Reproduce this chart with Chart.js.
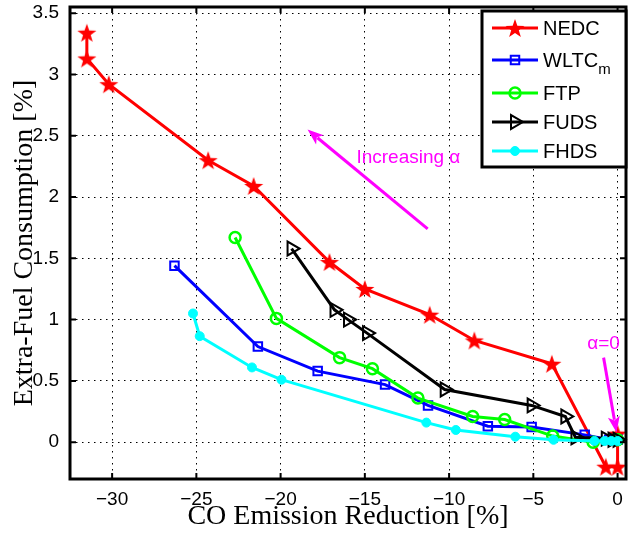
<!DOCTYPE html>
<html>
<head>
<meta charset="utf-8">
<script src="https://cdn.jsdelivr.net/npm/chart.js@4.4.1/dist/chart.umd.min.js"></script>
<style>
html, body { margin: 0; padding: 0; background: #fff; }
#wrap { width: 628px; height: 533px; }
</style>
</head>
<body>
<div id="wrap"><canvas id="chart" width="628" height="533"></canvas></div>
<script>
// Datos
const nedcX = [-31.5, -31.5, -30.2, -24.3, -21.6, -17.1, -15.0, -11.15, -8.5, -3.9, -0.7, 0, 0];
const nedcY = [3.34, 3.13, 2.92, 2.30, 2.09, 1.47, 1.25, 1.04, 0.83, 0.64, -0.20, -0.20, 0.07];

const wltcX = [-26.3, -21.35, -17.8, -13.8, -11.25, -7.7, -5.1, -1.95, -0.5, 0];
const wltcY = [1.44, 0.78, 0.58, 0.47, 0.30, 0.13, 0.125, 0.06, 0.02, 0.02];

const ftpX = [-22.7, -20.25, -16.5, -14.55, -11.85, -8.6, -6.7, -3.85, -1.45, 0];
const ftpY = [1.67, 1.01, 0.69, 0.60, 0.36, 0.21, 0.185, 0.05, 0.0, 0.02];

const fudsX = [-19.35, -16.8, -16.0, -14.87, -10.26, -5.1, -3.1, -2.5, -0.7, -0.3, 0];
const fudsY = [1.58, 1.08, 1.0, 0.89, 0.43, 0.30, 0.21, 0.04, 0.03, 0.02, 0.02];

const fhdsX = [-25.2, -24.8, -21.7, -19.95, -11.35, -9.6, -6.07, -3.8, -1.37, -0.77, -0.37, 0];
const fhdsY = [1.05, 0.865, 0.61, 0.51, 0.16, 0.10, 0.045, 0.02, 0.01, 0.01, 0.01, 0.01];

// Ejes
const xMin = -32.5, xMax = 0.5;
const yMin = -0.3, yMax = 3.55;
const xTicks = [-30, -25, -20, -15, -10, -5, 0];
const yTicks = [0, 0.5, 1, 1.5, 2, 2.5, 3, 3.5];

// Anotaciones (coordenadas en datos)
const arrowInc = { from: [-11.27, 1.74], to: [-18.4, 2.55] };
const textInc = { at: [-15.5, 2.32], label: 'Increasing α' };
const arrowZero = { from: [-0.83, 0.69], to: [-0.06, 0.08] };
const textZero = { at: [-0.83, 0.80], label: 'α=0' };

function pairs(xs, ys) {
    return xs.map((x, i) => ({ x: x, y: ys[i] }));
}

// Estrella rellena (pentagrama) como imagen
function makeStar(r, color) {
    const c = document.createElement('canvas');
    const s = Math.ceil(r * 2 + 2);
    c.width = s;
    c.height = s;
    const g = c.getContext('2d');
    g.beginPath();
    for (let i = 0; i < 10; i++) {
        const rad = i % 2 === 0 ? r : r * 0.4;
        const a = -Math.PI / 2 + i * Math.PI / 5;
        g.lineTo(s / 2 + rad * Math.cos(a), s / 2 + 1 + rad * Math.sin(a));
    }
    g.closePath();
    g.fillStyle = color;
    g.fill();
    return c;
}
const starImg = makeStar(10, '#ff0000');

const datasets = [
    {
        label: 'NEDC', data: pairs(nedcX, nedcY),
        borderColor: '#ff0000', backgroundColor: '#ff0000',
        pointStyle: starImg, pointRadius: 10, borderWidth: 3, order: 5
    },
    {
        label: 'WLTC', sub: 'm', data: pairs(wltcX, wltcY),
        borderColor: '#0000ff', backgroundColor: 'rgba(0,0,0,0)',
        pointStyle: 'rect', pointRadius: 6, pointBorderWidth: 2, borderWidth: 3, order: 4
    },
    {
        label: 'FTP', data: pairs(ftpX, ftpY),
        borderColor: '#00ff00', backgroundColor: 'rgba(0,0,0,0)',
        pointStyle: 'circle', pointRadius: 5.5, pointBorderWidth: 2.5, borderWidth: 3, order: 3
    },
    {
        label: 'FUDS', data: pairs(fudsX, fudsY),
        borderColor: '#000000', backgroundColor: 'rgba(0,0,0,0)',
        pointStyle: 'triangle', pointRotation: 90, pointRadius: 8, pointBorderWidth: 2, borderWidth: 3, order: 2
    },
    {
        label: 'FHDS', data: pairs(fhdsX, fhdsY),
        borderColor: '#00ffff', backgroundColor: '#00ffff',
        pointStyle: 'circle', pointRadius: 4.5, pointBorderWidth: 1, borderWidth: 3, order: 1
    }
];

function drawArrow(ctx, x1, y1, x2, y2, color) {
    const ang = Math.atan2(y2 - y1, x2 - x1);
    const hl = 16, hw = 6;
    ctx.save();
    ctx.strokeStyle = color;
    ctx.fillStyle = color;
    ctx.lineWidth = 3;
    ctx.beginPath();
    ctx.moveTo(x1, y1);
    ctx.lineTo(x2 - Math.cos(ang) * hl * 0.8, y2 - Math.sin(ang) * hl * 0.8);
    ctx.stroke();
    ctx.beginPath();
    ctx.moveTo(x2, y2);
    ctx.lineTo(x2 - hl * Math.cos(ang) + hw * Math.sin(ang), y2 - hl * Math.sin(ang) - hw * Math.cos(ang));
    ctx.lineTo(x2 - hl * 0.75 * Math.cos(ang), y2 - hl * 0.75 * Math.sin(ang));
    ctx.lineTo(x2 - hl * Math.cos(ang) - hw * Math.sin(ang), y2 - hl * Math.sin(ang) + hw * Math.cos(ang));
    ctx.closePath();
    ctx.fill();
    ctx.restore();
}

// Marco, marcas interiores, leyenda y anotaciones
const decorPlugin = {
    id: 'decor',
    afterDraw(chart) {
        const ctx = chart.ctx;
        const a = chart.chartArea;
        const xs = chart.scales.x, ys = chart.scales.y;

        // marcas hacia dentro
        ctx.save();
        ctx.strokeStyle = '#000';
        ctx.lineWidth = 2;
        xs.ticks.forEach(t => {
            const px = xs.getPixelForValue(t.value);
            ctx.beginPath();
            ctx.moveTo(px, a.bottom); ctx.lineTo(px, a.bottom - 6);
            ctx.moveTo(px, a.top); ctx.lineTo(px, a.top + 6);
            ctx.stroke();
        });
        ys.ticks.forEach(t => {
            const py = ys.getPixelForValue(t.value);
            ctx.beginPath();
            ctx.moveTo(a.left, py); ctx.lineTo(a.left + 6, py);
            ctx.moveTo(a.right, py); ctx.lineTo(a.right - 6, py);
            ctx.stroke();
        });
        ctx.lineWidth = 3;
        ctx.strokeRect(a.left, a.top, a.right - a.left, a.bottom - a.top);
        ctx.restore();

        // anotaciones
        const px = v => xs.getPixelForValue(v);
        const py = v => ys.getPixelForValue(v);
        drawArrow(ctx, px(arrowInc.from[0]), py(arrowInc.from[1]), px(arrowInc.to[0]), py(arrowInc.to[1]), '#ff00ff');
        drawArrow(ctx, px(arrowZero.from[0]), py(arrowZero.from[1]), px(arrowZero.to[0]), py(arrowZero.to[1]), '#ff00ff');
        ctx.save();
        ctx.fillStyle = '#ff00ff';
        ctx.font = '19px "Liberation Sans", Arial, sans-serif';
        ctx.textBaseline = 'middle';
        ctx.textAlign = 'left';
        ctx.fillText(textInc.label, px(textInc.at[0]), py(textInc.at[1]));
        ctx.textAlign = 'center';
        ctx.fillText(textZero.label, px(textZero.at[0]), py(textZero.at[1]));
        ctx.restore();

        // leyenda
        const lx = 482, ly = 11, lw = 144, lh = 156;
        ctx.save();
        ctx.fillStyle = '#fff';
        ctx.fillRect(lx, ly, lw, lh);
        ctx.strokeStyle = '#000';
        ctx.lineWidth = 3;
        ctx.strokeRect(lx, ly, lw, lh);
        const rows = [28, 60, 93, 122, 151];
        chart.data.datasets.forEach((ds, i) => {
            const yy = rows[i];
            ctx.strokeStyle = ds.borderColor;
            ctx.lineWidth = 3;
            ctx.beginPath();
            ctx.moveTo(492, yy); ctx.lineTo(538, yy);
            ctx.stroke();
            ctx.fillStyle = ds.backgroundColor;
            ctx.lineWidth = ds.pointBorderWidth || 1;
            Chart.helpers.drawPoint(ctx, {
                pointStyle: ds.pointStyle,
                rotation: ds.pointRotation || 0,
                radius: ds.pointRadius,
                borderWidth: ds.pointBorderWidth || 0
            }, 515, yy);
            ctx.fillStyle = '#000';
            ctx.font = '20px "Liberation Sans", Arial, sans-serif';
            ctx.textAlign = 'left';
            ctx.textBaseline = 'middle';
            ctx.fillText(ds.label, 543, yy + 1);
            if (ds.sub) {
                const w = ctx.measureText(ds.label).width;
                ctx.font = '15px "Liberation Sans", Arial, sans-serif';
                ctx.fillText(ds.sub, 543 + w, yy + 10);
            }
        });
        ctx.restore();
    }
};

function setTicks(values) {
    return scale => {
        scale.ticks = values.map(v => ({ value: v }));
    };
}

const tickFont = { family: '"Liberation Sans", Arial, sans-serif', size: 19 };
const titleFont = { family: '"Liberation Serif", "Times New Roman", serif', size: 28 };
const fmt = v => (v < 0 ? '\u2212' + Math.abs(v) : String(v));

new Chart(document.getElementById('chart').getContext('2d'), {
    type: 'scatter',
    data: { datasets: datasets.map(ds => Object.assign({ showLine: true, pointHoverRadius: ds.pointRadius, clip: 12 }, ds)) },
    options: {
        responsive: false,
        animation: false,
        events: [],
        layout: { autoPadding: false, padding: { top: 7, right: 2, left: 0, bottom: 0 } },
        plugins: { legend: { display: false }, tooltip: { enabled: false } },
        scales: {
            x: {
                type: 'linear', min: xMin, max: xMax,
                afterBuildTicks: setTicks(xTicks),
                afterFit: s => { s.height = 54; s.paddingLeft = 0; s.paddingRight = 0; },
                ticks: { color: '#000', font: tickFont, padding: 9, maxRotation: 0, autoSkip: false, callback: fmt },
                grid: { color: '#000', lineWidth: 1, drawTicks: false },
                border: { display: false, dash: [1.5, 4.5] },
                title: { display: true, text: 'CO Emission Reduction [%]', color: '#000', font: titleFont, padding: { top: 0, bottom: 0 } }
            },
            y: {
                type: 'linear', min: yMin, max: yMax,
                afterBuildTicks: setTicks(yTicks),
                afterFit: s => { s.width = 70; s.paddingTop = 0; s.paddingBottom = 0; },
                ticks: { color: '#000', font: tickFont, padding: 11, autoSkip: false, callback: fmt },
                grid: { color: '#000', lineWidth: 1, drawTicks: false },
                border: { display: false, dash: [1.5, 4.5] },
                title: { display: true, text: 'Extra-Fuel Consumption [%]', color: '#000', font: titleFont, padding: { top: 8, bottom: 0 } }
            }
        }
    },
    plugins: [decorPlugin]
});
</script>
</body>
</html>
